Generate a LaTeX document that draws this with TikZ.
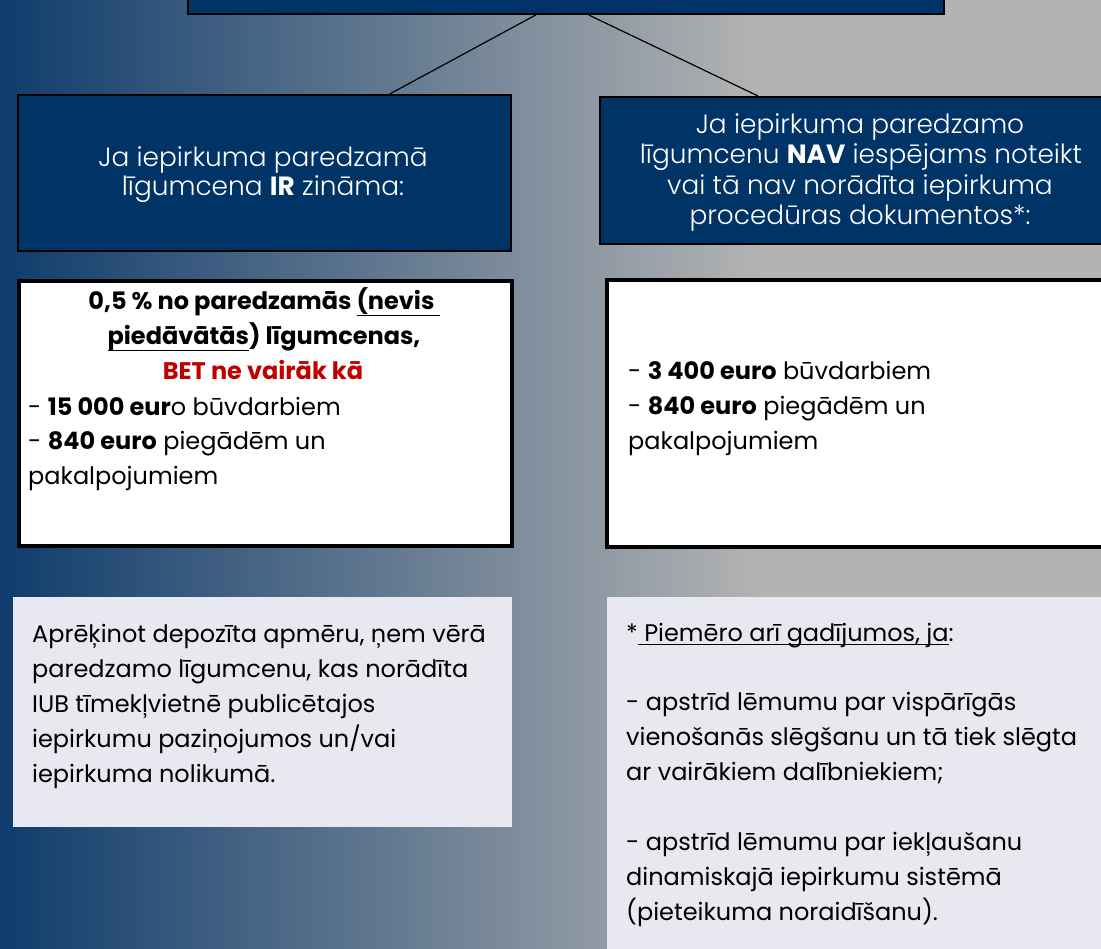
\documentclass[tikz,border=0pt]{standalone}
\usepackage{fontspec}
\setmainfont{Poppins}
\IfFontExistsTF{Poppins Light}{\newfontfamily\lightfont{Poppins Light}}{\newcommand\lightfont{}}
\usetikzlibrary{calc}
\definecolor{bgL}{HTML}{0F3C6C}
\definecolor{bgR}{HTML}{B3B3B3}
\definecolor{boxblue}{HTML}{003366}
\definecolor{redtxt}{HTML}{C00000}
\definecolor{notefill}{HTML}{E8E8F0}
\newcommand\myul[2]{\setbox0\hbox{#2}\rlap{\rule[-#1]{\wd0}{1.4pt}}\box0}
\newcommand\bb[1]{{\normalfont\bfseries #1}}
\begin{document}
\begin{tikzpicture}[x=1pt,y=-1pt,
  bluebox/.style={draw=black, line width=2pt, fill=boxblue, anchor=north west, inner sep=0},
  whitebox/.style={draw=black, line width=4pt, fill=white, anchor=north west, inner sep=0},
  notebox/.style={fill=notefill, anchor=north west, inner sep=0},
  bluetxt/.style={text=white, font=\lightfont\fontsize{26.4}{30}\selectfont, anchor=base, inner sep=0},
  bodytxt/.style={text=black, font=\fontsize{24}{35}\selectfont, anchor=base west, inner sep=0},
  ctrtxt/.style={bodytxt, anchor=base},
  link/.style={draw=black, line width=1.2pt}]
\clip (0,0) rectangle (1101,949);
\shade[left color=bgL, right color=bgR] (0,0) rectangle (760,949);
\fill[bgR] (759,0) rectangle (1101,949);

% boxes
\node[bluebox, minimum width=756, minimum height=80, anchor=south west] (top) at (187,15) {};
\node[bluebox, minimum width=493, minimum height=156] (lq) at (17,94) {};
\node[bluebox, minimum width=530, minimum height=147] (rq) at (599,96) {};
\node[whitebox, minimum width=493, minimum height=265] (lw) at (17,279) {};
\node[whitebox, minimum width=530, minimum height=267] (rw) at (605,278) {};
\node[notebox, minimum width=499, minimum height=230] (ln) at (13,597) {};
\node[notebox, minimum width=520, minimum height=400] (rn) at (607,597) {};

% connectors
\draw[link] ($(top.south west)!0.46!(top.south east)$) -- ($(lq.north west)!0.753!(lq.north east)$);
\draw[link] ($(top.south west)!0.53!(top.south east)$) -- ($(rq.north west)!0.299!(rq.north east)$);

% left blue text
\node[bluetxt] (lq1) at (263,167) {Ja iepirkuma paredzamā};
\node[bluetxt] (lq2) at (263,196) {līgumcena \bb{IR} zināma:};
% right blue text
\node[bluetxt] (rq1) at (860,134) {Ja iepirkuma paredzamo};
\node[bluetxt] (rq2) at (861,164) {līgumcenu \bb{NAV} iespējams noteikt};
\node[bluetxt] (rq3) at (860,195) {vai tā nav norādīta iepirkuma};
\node[bluetxt] (rq4) at (860,225) {procedūras dokumentos*:};

% left white text
\node[ctrtxt, font=\bfseries\fontsize{24}{35}\selectfont] (lw1) at (264,310) {0,5 \% no paredzamās \myul{6pt}{(nevis }};
\node[ctrtxt, font=\bfseries\fontsize{24}{35}\selectfont] (lw2) at (264,345) {\myul{6pt}{piedāvātās}) līgumcenas,};
\node[ctrtxt, font=\bfseries\fontsize{24}{35}\selectfont, text=redtxt] (lw3) at (263,380) {BET ne vairāk kā};
\node[bodytxt] (lw4) at (28,416) {- \textbf{15 000 eur}o būvdarbiem};
\node[bodytxt] (lw5) at (28,450) {- \textbf{840 euro} piegādēm un};
\node[bodytxt] (lw6) at (28,485) {pakalpojumiem};

% right white text
\node[bodytxt] (rw1) at (628,380) {- \textbf{3 400 euro} būvdarbiem};
\node[bodytxt] (rw2) at (628,415) {- \textbf{840 euro} piegādēm un};
\node[bodytxt] (rw3) at (628,450) {pakalpojumiem};

% left note text
\node[bodytxt] (ln1) at (32,642) {Aprēķinot depozīta apmēru, ņem vērā};
\node[bodytxt] (ln2) at (32,677) {paredzamo līgumcenu, kas norādīta};
\node[bodytxt] (ln3) at (32,712) {IUB tīmekļvietnē publicētajos};
\node[bodytxt] (ln4) at (32,747) {iepirkumu paziņojumos un/vai};
\node[bodytxt] (ln5) at (32,782) {iepirkuma nolikumā.};

% right note text
\node[bodytxt] (rn1) at (626,641) {*\myul{4pt}{ Piemēro arī gadījumos, ja}:};
\node[bodytxt] (rn2) at (626,710) {- apstrīd lēmumu par vispārīgās};
\node[bodytxt] (rn3) at (626,745) {vienošanās slēgšanu un tā tiek slēgta};
\node[bodytxt] (rn4) at (626,780) {ar vairākiem dalībniekiem;};
\node[bodytxt] (rn5) at (626,850) {- apstrīd lēmumu par iekļaušanu};
\node[bodytxt] (rn6) at (626,885) {dinamiskajā iepirkumu sistēmā};
\node[bodytxt] (rn7) at (626,920) {(pieteikuma noraidīšanu).};
\end{tikzpicture}
\end{document}
